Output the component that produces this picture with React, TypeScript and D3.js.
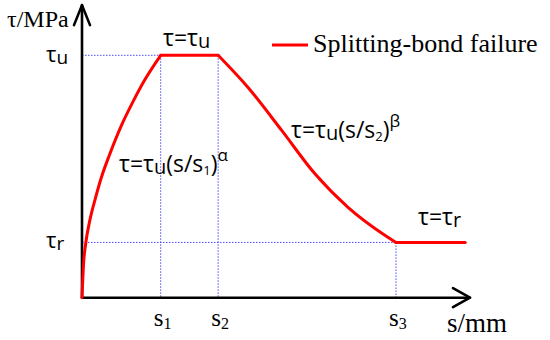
import * as d3 from "d3";

// Characteristic slips (s1, s2, s3) and the end of the residual plateau
const S_MARKS = [1, 1.73, 3.99];
const S_LABELS = ["1", "2", "3"];
const S_END = 4.87;
const S_AXIS_MAX = 4.93;

// Bond stress levels (normalised to tau_u)
const TAU_U = 1;
const TAU_R = 0.228;
const TAU_AXIS_MAX = 1.207;

// Ascending branch tau = tau_u (s/s1)^alpha
const RISE: [number, number][] = [
  [0, 0], [0.02, 0.14], [0.05, 0.23], [0.1, 0.32], [0.17, 0.41], [0.25, 0.5],
  [0.35, 0.59], [0.5, 0.71], [0.65, 0.81], [0.8, 0.9], [1, 1],
];
// Softening branch tau = tau_u (s/s2)^beta
const FALL: [number, number][] = [
  [1.73, 1], [2.11, 0.867], [2.54, 0.689], [2.96, 0.511], [3.38, 0.373], [3.81, 0.266], [3.99, 0.228],
];

const W = 550;
const H = 340;
const RED = "#ff0000";
const BLUE = "#4a4aff";
const SERIF = "'Liberation Serif', 'Times New Roman', serif";
const SANS = "'Open Sans', 'Noto Sans', sans-serif";

export default function App() {
  const x = d3.scaleLinear().domain([0, 5]).range([82, 475.5]);
  const y = d3.scaleLinear().domain([0, 1]).range([297.7, 55.3]);

  const curve = d3.line<[number, number]>()
    .x((d) => x(d[0]))
    .y((d) => y(d[1]))
    .curve(d3.curveMonotoneX);
  const straight = d3.line<[number, number]>()
    .x((d) => x(d[0]))
    .y((d) => y(d[1]));

  const [s1, s2, s3] = S_MARKS;
  const x0 = x(0);
  const y0 = y(0);
  const xTip = x(S_AXIS_MAX);
  const yTip = y(TAU_AXIS_MAX);

  return (
    <svg width={W} height={H} style={{ position: "absolute", left: 0, top: 0, background: "#fff" }}>
      {/* guide lines */}
      <g stroke={BLUE} strokeWidth={1} strokeDasharray="1.5,1.5" fill="none">
        <line x1={x0} x2={x(s1)} y1={y(TAU_U)} y2={y(TAU_U)} />
        <line x1={x(s1)} x2={x(s1)} y1={y(TAU_U)} y2={y0} />
        <line x1={x(s2)} x2={x(s2)} y1={y(TAU_U)} y2={y0} />
        <line x1={x0} x2={x(s3)} y1={y(TAU_R)} y2={y(TAU_R)} />
        <line x1={x(s3)} x2={x(s3)} y1={y(TAU_R)} y2={y0} />
      </g>

      {/* axes */}
      <g stroke="#000" strokeWidth={2.6} fill="none" strokeLinecap="round" strokeLinejoin="round">
        <line x1={x0} x2={xTip} y1={y0} y2={y0} />
        <line x1={x0} x2={x0} y1={y0} y2={yTip} />
        <path d={`M${xTip - 17},${y0 - 9.5}L${xTip},${y0}L${xTip - 17},${y0 + 9.5}`} />
        <path d={`M${x0 - 8},${yTip + 20}L${x0},${yTip}L${x0 + 8},${yTip + 20}`} />
      </g>

      {/* bond-slip curve */}
      <g stroke={RED} strokeWidth={3} fill="none" strokeLinecap="round" strokeLinejoin="round">
        <path d={curve(RISE) ?? ""} />
        <path d={straight([[s1, TAU_U], [s2, TAU_U]]) ?? ""} />
        <path d={curve(FALL) ?? ""} />
        <path d={straight([[s3, TAU_R], [S_END, TAU_R]]) ?? ""} />
      </g>

      {/* legend */}
      <line x1={272} x2={308} y1={45} y2={45} stroke={RED} strokeWidth={3} />
      <text x={313} y={52} fontFamily={SERIF} fontSize={26} fill="#000">Splitting-bond failure</text>

      {/* axis titles */}
      <text x={7} y={27} fontFamily={SERIF} fontSize={24} fill="#000">τ/MPa</text>
      <text x={447} y={332} fontFamily={SERIF} fontSize={27} fill="#000">s/mm</text>

      {/* y levels */}
      <text x={46} y={y(TAU_U) + 7} fontFamily={SANS} fontSize={22} fill="#000">
        τ<tspan fontSize={19} dy={2}>u</tspan>
      </text>
      <text x={46} y={y(TAU_R) + 6} fontFamily={SANS} fontSize={22} fill="#000">
        τ<tspan fontSize={19} dy={2}>r</tspan>
      </text>

      {/* s marks */}
      {S_MARKS.map((s, i) => (
        <text key={i} x={x(s) - 7} y={y0 + 28} fontFamily={SERIF} fontSize={25} fill="#000">
          s<tspan fontSize={16} dy={3}>{S_LABELS[i]}</tspan>
        </text>
      ))}

      {/* branch formulas */}
      <text x={163} y={46} fontFamily={SANS} fontSize={23} fill="#000">
        τ=τ<tspan fontSize={20} dy={2}>u</tspan>
      </text>
      <text x={119} y={172} fontFamily={SANS} fontSize={23} fill="#000">
        τ=τ<tspan fontSize={20} dy={2}>u</tspan>
        <tspan dy={-2}>(s/s</tspan>
        <tspan fontSize={13} dy={3}>1</tspan>
        <tspan dy={-3}>)</tspan>
        <tspan fontSize={17} dy={-11}>α</tspan>
      </text>
      <text x={291} y={138} fontFamily={SANS} fontSize={23} fill="#000">
        τ=τ<tspan fontSize={20} dy={2}>u</tspan>
        <tspan dy={-2}>(s/s</tspan>
        <tspan fontSize={13} dy={3}>2</tspan>
        <tspan dy={-3}>)</tspan>
        <tspan fontSize={17} dy={-11}>β</tspan>
      </text>
      <text x={418} y={225} fontFamily={SANS} fontSize={23} fill="#000">
        τ=τ<tspan fontSize={20} dy={2}>r</tspan>
      </text>
    </svg>
  );
}
